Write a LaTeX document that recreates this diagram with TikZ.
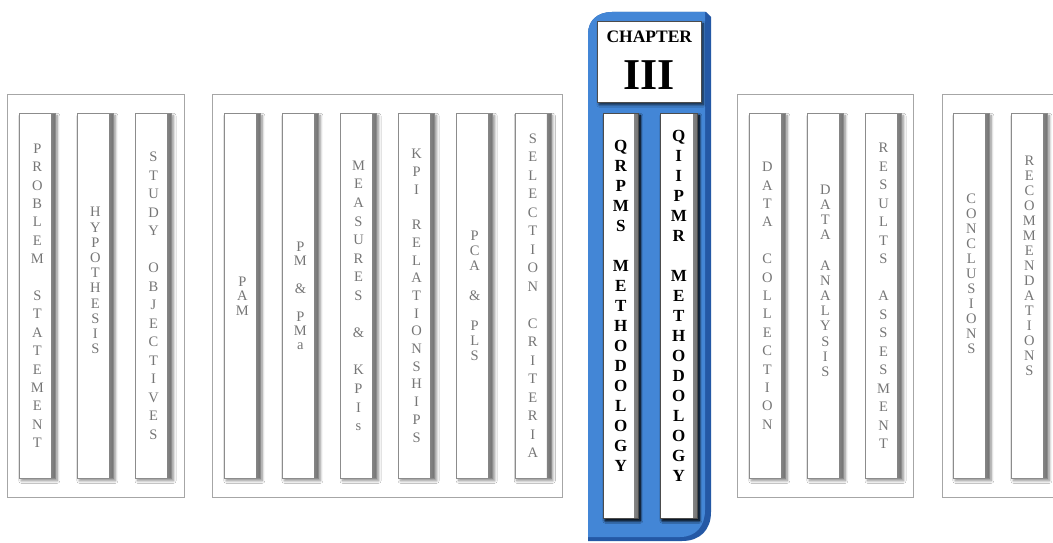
\documentclass[tikz,border=0pt]{standalone}
\usepackage{fontspec}
\setmainfont{Liberation Serif}
\usetikzlibrary{positioning,shadows.blur}

\definecolor{chapblue}{RGB}{67,134,214}
\definecolor{chapedge}{RGB}{36,88,165}
\definecolor{spinegray}{RGB}{118,118,118}

\tikzset{
  groupframe/.style={draw=black!35,line width=.7pt},
  spine/.style={draw=black!45,fill=white,line width=.6pt,inner sep=0pt,
    minimum width=36pt,minimum height=365pt,align=center,text=spinegray,
    font=\fontsize{14.5}{#1}\selectfont,
    blur shadow={shadow xshift=2pt,shadow yshift=-2.5pt,shadow blur radius=2.5pt,shadow blur steps=8,shadow opacity=45},
    path picture={\shade[left color=white,right color=black!55]
      ([xshift=-4pt]path picture bounding box.north east) rectangle (path picture bounding box.south east);}},
  spine/.default=18.4,
  boldspine/.style={spine=20,text=black,draw=black!70,minimum height=405pt,
    font=\fontsize{17}{20}\selectfont\bfseries,
    blur shadow={shadow xshift=2pt,shadow yshift=-2.5pt,shadow blur radius=2.5pt,shadow blur steps=8,shadow opacity=75}},
  chapbox/.style={draw=black!70,fill=white,line width=.6pt,minimum width=104pt,minimum height=81pt,
    blur shadow={shadow xshift=2pt,shadow yshift=-2.5pt,shadow blur radius=2.5pt,shadow blur steps=8,shadow opacity=75}}
}

\begin{document}
\begin{tikzpicture}[x=1pt,y=-1pt]
\useasboundingbox[fill=white] (0,0) rectangle (1053,543);

% problem, hypothesis, objectives
\draw[groupframe] (7,94) rectangle (184,497);
\node[spine,anchor=north west] (probstat) at (19,113)
  {P\\R\\O\\B\\L\\E\\M\\~\\S\\T\\A\\T\\E\\M\\E\\N\\T};
\node[spine=15.2,right=21.5pt of probstat] (hypo)
  {H\\Y\\P\\O\\T\\H\\E\\S\\I\\S\\~\\~};
\node[spine=18.5,right=21.5pt of hypo] (studyobj)
  {S\\T\\U\\D\\Y\\~\\O\\B\\J\\E\\C\\T\\I\\V\\E\\S};

% literature part
\draw[groupframe] (212,94) rectangle (562,497);
\node[spine=14.5,anchor=north west] (pam) at (224,113) {P\\A\\M};
\node[spine=14,right=21.5pt of pam] (pmpma)
  {P\\M\\~\\\&\\~\\P\\M\\a};
\node[spine=18.6,right=21.5pt of pmpma] (kpis)
  {M\\E\\A\\S\\U\\R\\E\\S\\~\\\&\\~\\K\\P\\I\\s};
\node[spine=17.7,right=21.5pt of kpis] (kpirel)
  {K\\P\\I\\~\\R\\E\\L\\A\\T\\I\\O\\N\\S\\H\\I\\P\\S};
\node[spine=15,right=21.5pt of kpirel] (pcapls)
  {P\\C\\A\\~\\\&\\~\\P\\L\\S};
\node[spine=18.5,right=21.5pt of pcapls] (selcrit)
  {S\\E\\L\\E\\C\\T\\I\\O\\N\\~\\C\\R\\I\\T\\E\\R\\I\\A};

% chapter III
\fill[chapedge] (588,541) -- (588,34) .. controls (588,20) and (598,12) .. (612,12)
  -- (706,12) -- (711,17) -- (711,512) .. controls (711,530) and (700,541) .. (682,541) -- cycle;
\fill[chapblue] (588,537) -- (588,34) .. controls (588,20) and (598,12) .. (612,12)
  -- (705,12) -- (705,510) .. controls (705,526) and (696,537) .. (680,537) -- cycle;
\node[chapbox,anchor=north west] (chapbox) at (597,21) {};
\node[font=\fontsize{17.5}{20}\selectfont\bfseries] (chaptitle) at ([yshift=-16pt]chapbox.north) {CHAPTER};
\node[font=\fontsize{44}{44}\selectfont\bfseries] (chapnum) at ([yshift=-54pt]chapbox.north) {III};
\node[boldspine,minimum width=35pt,anchor=north west] (qrpms) at (603,113)
  {Q\\R\\P\\M\\S\\~\\M\\E\\T\\H\\O\\D\\O\\L\\O\\G\\Y\\~};
\node[boldspine,minimum width=37pt,anchor=north west] (qiipmr) at (660,113)
  {Q\\I\\I\\P\\M\\R\\~\\M\\E\\T\\H\\O\\D\\O\\L\\O\\G\\Y\\~};

% data part
\draw[groupframe] (737,94) rectangle (913,497);
\node[spine,anchor=north west] (datacol) at (749,113)
  {D\\A\\T\\A\\~\\C\\O\\L\\L\\E\\C\\T\\I\\O\\N};
\node[spine=15.2,right=21.5pt of datacol] (dataana)
  {D\\A\\T\\A\\~\\A\\N\\A\\L\\Y\\S\\I\\S\\~\\~};
\node[spine=18.5,right=21.5pt of dataana] (results)
  {R\\E\\S\\U\\L\\T\\S\\~\\A\\S\\S\\E\\S\\M\\E\\N\\T};

% closing part
\draw[groupframe] (1053,94) -| (942,497) -- (1053,497);
\node[spine=15,anchor=north west] (concl) at (953,113)
  {C\\O\\N\\C\\L\\U\\S\\I\\O\\N\\S\\~\\~\\~};
\node[spine=15,right=21.5pt of concl] (recom)
  {R\\E\\C\\O\\M\\M\\E\\N\\D\\A\\T\\I\\O\\N\\S\\~\\~\\~\\~};
\end{tikzpicture}
\end{document}
